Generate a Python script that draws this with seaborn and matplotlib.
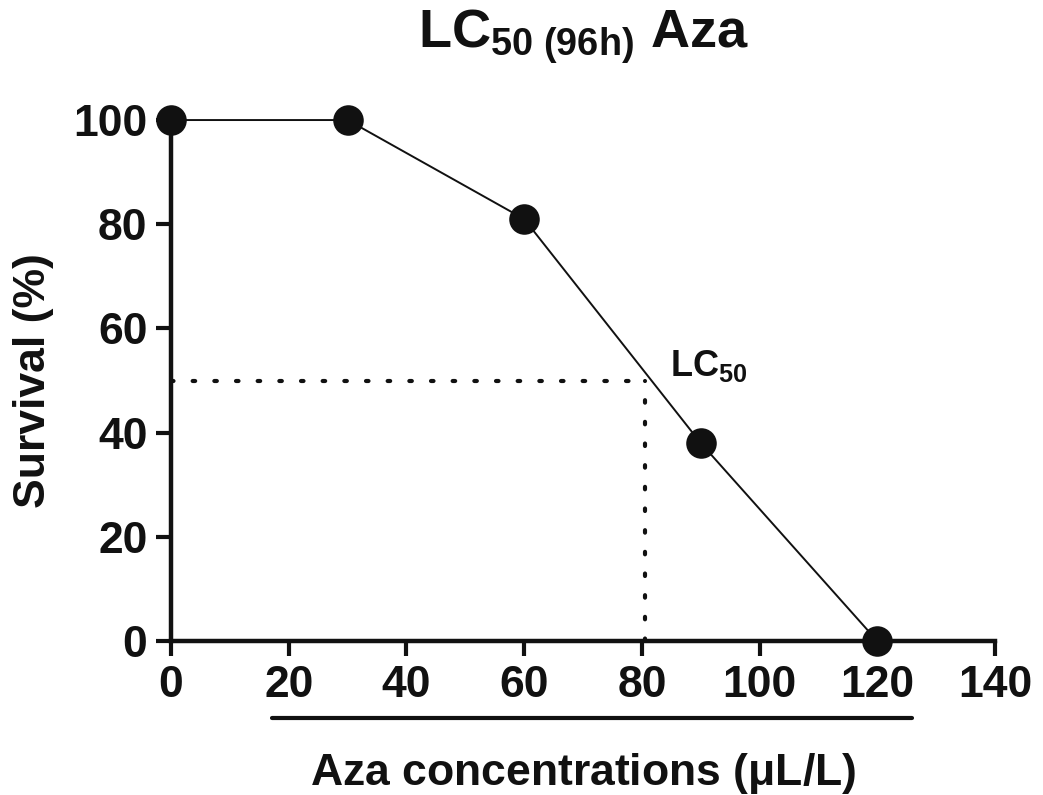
import matplotlib
matplotlib.use("Agg")
import matplotlib.pyplot as plt
import seaborn as sns
import pandas as pd
from matplotlib.lines import Line2D

# Survival data for the Aza exposure series
concentrations = [0, 30, 60, 90, 120]
survival = [100, 100, 81, 38, 0]
lc50_conc = 80.5
lc50_surv = 50
x_ticks = [0, 20, 40, 60, 80, 100, 120, 140]
y_ticks = [0, 20, 40, 60, 80, 100]

sns.set_theme(style="ticks")
plt.rcParams["font.family"] = ["Liberation Sans", "DejaVu Sans"]
plt.rcParams["mathtext.fontset"] = "custom"
plt.rcParams["mathtext.rm"] = "Liberation Sans"
plt.rcParams["mathtext.bf"] = "Liberation Sans:bold"
plt.rcParams["mathtext.it"] = "Liberation Sans:italic"

ink = "#111111"
df = pd.DataFrame({"conc": concentrations, "surv": survival})

fig = plt.figure(figsize=(10.43, 7.95), dpi=100)
ax = fig.add_axes([0.164, 0.1937, 0.790, 0.6553])

sns.lineplot(data=df, x="conc", y="surv", ax=ax, color=ink, linewidth=1.4,
             marker="o", markersize=22, markeredgewidth=0, markerfacecolor=ink,
             clip_on=False, zorder=5)

# LC50 guide lines
dot = (0, (0.6, 4.6))
ax.plot([0, lc50_conc], [lc50_surv, lc50_surv], color=ink, linewidth=3,
        linestyle=dot, dash_capstyle="round", zorder=3)
ax.plot([lc50_conc, lc50_conc], [0, lc50_surv], color=ink, linewidth=3,
        linestyle=dot, dash_capstyle="round", zorder=3)
ax.text(84.8, 50.9, r"LC$_{\mathbf{50}}$", fontsize=26, fontweight="bold",
        color=ink, ha="left", va="baseline")

ax.set_xlim(0, 140)
ax.set_ylim(0, 100)
ax.set_xticks(x_ticks)
ax.set_yticks(y_ticks)
ax.tick_params(axis="both", direction="out", length=11, width=3, color=ink,
               labelsize=32, labelcolor=ink, pad=6)
for lab in ax.get_xticklabels() + ax.get_yticklabels():
    lab.set_fontweight("bold")

sns.despine(ax=ax)
for side in ("left", "bottom"):
    ax.spines[side].set_linewidth(3.2)
    ax.spines[side].set_color(ink)
    ax.spines[side].set_capstyle("projecting")

ax.set_xlabel(r"Aza concentrations ($\mathbf{\mu}$L/L)", fontsize=32,
              fontweight="bold", color=ink, labelpad=33)
ax.set_ylabel("Survival (%)", fontsize=32, fontweight="bold", color=ink, labelpad=14)
ax.set_title(r"LC$_{\mathbf{50\ (96h)}}$ Aza", fontsize=39, fontweight="bold",
             color=ink, pad=52)

# Bar separating tick labels from the axis title
ax.add_line(Line2D([0.1226, 0.899], [-0.148, -0.148], transform=ax.transAxes,
                   color=ink, linewidth=3, clip_on=False))

fig.savefig("out.png", dpi=100, facecolor="white")
